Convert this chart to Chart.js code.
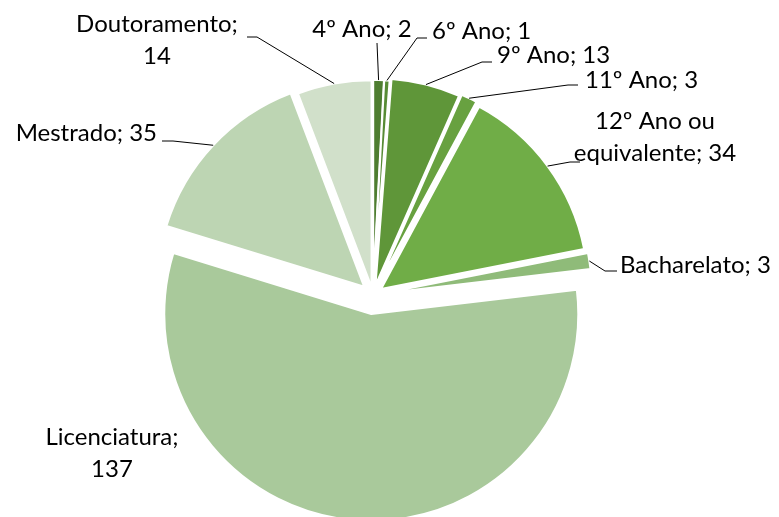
<!DOCTYPE html>
<html>
<head>
<meta charset="utf-8">
<script src="https://cdn.jsdelivr.net/npm/chart.js@4.4.0/dist/chart.umd.min.js"></script>
<style>
  html, body { margin: 0; padding: 0; background: #fff; }
  #chart { display: block; }
</style>
</head>
<body>
<canvas id="chart" width="779" height="517"></canvas>
<script>
// Data
const categories = ['4º Ano', '6º Ano', '9º Ano', '11º Ano', '12º Ano ou equivalente', 'Bacharelato', 'Licenciatura', 'Mestrado', 'Doutoramento'];
const counts = [2, 1, 13, 3, 34, 3, 137, 35, 14];

// Styling
const sliceColors = ['#4e7d30', '#578b35', '#5f9639', '#68a140', '#70ad47', '#8fbb79', '#a9c99b', '#bdd5b3', '#d1e0ca'];
// how far each slice is pulled out from the centre (px)
const explode = [8, 8, 10, 12, 10, 12, 19, 12, 8];
// label text anchor, wrap width and leader line points (after the point on the arc)
const labelLayout = [
    { x: 362, y: 29,  align: 'center', wrap: 400, leader: [[377, 43]] },
    { x: 432, y: 31,  align: 'left',   wrap: 400, leader: [[417, 38], [427, 38]] },
    { x: 497, y: 55,  align: 'left',   wrap: 400, leader: [[482, 62], [492, 62]] },
    { x: 585, y: 80,  align: 'left',   wrap: 400, leader: [[568, 85], [578, 85]] },
    { x: 655, y: 121, align: 'center', wrap: 170, leader: [[570, 162], [580, 162]] },
    { x: 620, y: 265, align: 'left',   wrap: 400, leader: [[605, 271], [617, 271]] },
    { x: 112, y: 437, align: 'center', wrap: 150, leader: null },
    { x: 157, y: 133, align: 'right',  wrap: 400, leader: [[173, 141], [162, 141]] },
    { x: 157, y: 24,  align: 'center', wrap: 170, leader: [[257, 37], [247, 37]] }
];
const LINE_H = 32;

function wrapText(ctx, text, maxW) {
    const words = text.split(' ');
    const lines = [];
    let cur = '';
    words.forEach(function(w) {
        const test = cur ? cur + ' ' + w : w;
        if (cur && ctx.measureText(test).width > maxW) {
            lines.push(cur);
            cur = w;
        } else {
            cur = test;
        }
    });
    if (cur) lines.push(cur);
    return lines;
}

// pull slices out along their mid angle
const explodePlugin = {
    id: 'explode',
    afterDatasetUpdate: function(chart, args) {
        const meta = chart.getDatasetMeta(args.index);
        meta.data.forEach(function(arc, i) {
            const mid = (arc.startAngle + arc.endAngle) / 2;
            arc.x += Math.cos(mid) * explode[i];
            arc.y += Math.sin(mid) * explode[i];
        });
    }
};

const labelPlugin = {
    id: 'sliceLabels',
    afterDatasetsDraw: function(chart) {
        const ctx = chart.ctx;
        const arcs = chart.getDatasetMeta(0).data;
        ctx.save();
        ctx.font = '24px Lato, "Open Sans", sans-serif';
        ctx.fillStyle = '#000';
        ctx.strokeStyle = '#000';
        ctx.lineWidth = 1;
        ctx.textBaseline = 'middle';
        arcs.forEach(function(arc, i) {
            const lay = labelLayout[i];
            if (lay.leader) {
                const mid = (arc.startAngle + arc.endAngle) / 2;
                ctx.beginPath();
                ctx.moveTo(arc.x + Math.cos(mid) * arc.outerRadius, arc.y + Math.sin(mid) * arc.outerRadius);
                lay.leader.forEach(function(p) { ctx.lineTo(p[0], p[1]); });
                ctx.stroke();
            }
            const lines = wrapText(ctx, categories[i] + '; ' + counts[i], lay.wrap);
            ctx.textAlign = lay.align;
            lines.forEach(function(ln, k) {
                ctx.fillText(ln, lay.x, lay.y + k * LINE_H);
            });
        });
        ctx.restore();
    }
};

new Chart(document.getElementById('chart'), {
    type: 'pie',
    data: {
        labels: categories,
        datasets: [{
            data: counts,
            backgroundColor: sliceColors,
            borderColor: '#fff',
            borderWidth: 2
        }]
    },
    options: {
        responsive: false,
        animation: false,
        radius: 207,
        layout: { padding: { left: 0, right: 33, top: 73, bottom: 0 } },
        plugins: {
            legend: { display: false },
            tooltip: { enabled: false }
        }
    },
    plugins: [explodePlugin, labelPlugin]
});
</script>
</body>
</html>
